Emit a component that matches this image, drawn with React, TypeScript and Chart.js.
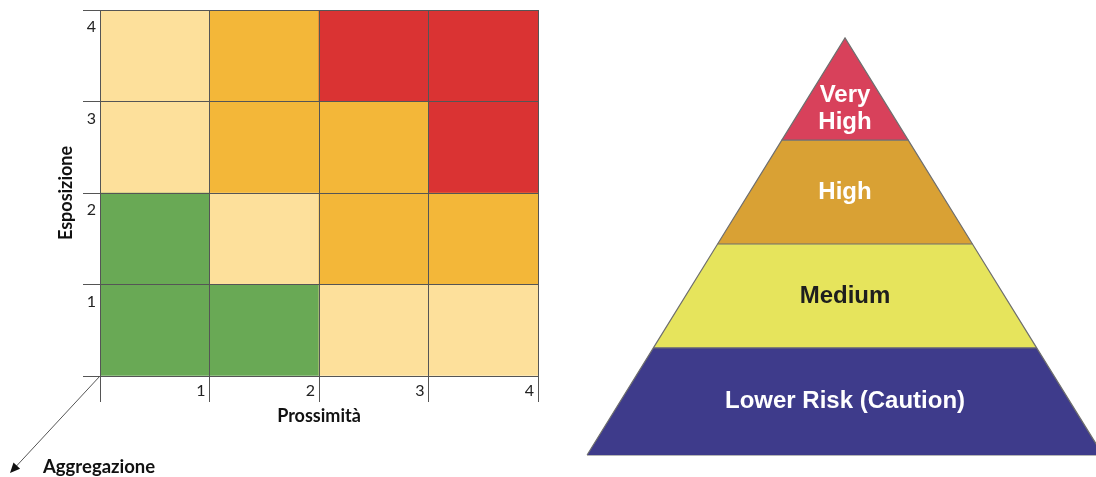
import React, { useEffect, useRef } from "react";
import { Chart, registerables } from "chart.js";

Chart.register(...registerables);

// ---------- Risk matrix (left) ----------
const prossimitaTicks = ["", "1", "2", "3", "4"];
const esposizioneTicks = ["", "1", "2", "3", "4"];
const cellCentres = [0.5, 1.5, 2.5, 3.5];
const cellHeight = [1, 1, 1, 1];
// risk level (1 = low … 4 = very high) for each Esposizione row, per Prossimità column
const riskRow1 = [1, 1, 2, 2];
const riskRow2 = [1, 2, 3, 3];
const riskRow3 = [2, 3, 3, 4];
const riskRow4 = [2, 3, 4, 4];
const riskRows = [riskRow1, riskRow2, riskRow3, riskRow4];
const riskColors = ["#69a955", "#fde09b", "#f3b739", "#da3333"];

// ---------- Pyramid (right) ----------
const pyramidLabels = ["Lower Risk (Caution)", "Medium", "High", "Very\nHigh"];
const pyramidBounds = [0, 25.7, 50.6, 75.5, 100];
const pyramidColors = ["#3e3b8b", "#e6e45c", "#d9a134", "#d8415b"];
const pyramidTextColors = ["#ffffff", "#1e1e1e", "#ffffff", "#ffffff"];

const GRID = "#555555";

const aggregazionePlugin = {
  id: "aggregazione",
  afterDraw(chart: any) {
    const { ctx, scales } = chart;
    const ox = scales.x.getPixelForValue(0);
    const oy = scales.y.getPixelForValue(0);
    const tx = ox - 90;
    const ty = oy + 97;
    ctx.save();
    ctx.strokeStyle = GRID;
    ctx.lineWidth = 1;
    ctx.beginPath();
    ctx.moveTo(ox, oy);
    ctx.lineTo(tx + 4, ty - 4.3);
    ctx.stroke();
    // arrow head
    const ang = Math.atan2(ty - oy, tx - ox);
    const len = 10;
    const half = 4.5;
    const bx = tx - len * Math.cos(ang);
    const by = ty - len * Math.sin(ang);
    ctx.fillStyle = "#111";
    ctx.beginPath();
    ctx.moveTo(tx, ty);
    ctx.lineTo(bx + half * Math.sin(ang), by - half * Math.cos(ang));
    ctx.lineTo(bx - half * Math.sin(ang), by + half * Math.cos(ang));
    ctx.closePath();
    ctx.fill();
    ctx.font = "bold 18.5px Lato";
    ctx.fillStyle = "#111";
    ctx.textAlign = "left";
    ctx.textBaseline = "middle";
    ctx.fillText("Aggregazione", ox - 57, oy + 91);
    ctx.restore();
  },
};

const pyramidLabelPlugin = {
  id: "pyramidLabels",
  afterDatasetsDraw(chart: any) {
    const { ctx, scales } = chart;
    const cx = scales.x.getPixelForValue(0);
    ctx.save();
    ctx.font = "bold 24px 'Liberation Sans'";
    ctx.textAlign = "center";
    ctx.textBaseline = "middle";
    pyramidLabels.forEach((label, i) => {
      const b = pyramidBounds[i];
      const t = pyramidBounds[i + 1];
      const lines = label.split("\n");
      const frac = lines.length > 1 ? 0.31 : 0.5;
      const cy = scales.y.getPixelForValue(b + (t - b) * frac);
      const lh = 27;
      ctx.fillStyle = pyramidTextColors[i];
      lines.forEach((ln, j) => {
        ctx.fillText(ln, cx, cy + (j - (lines.length - 1) / 2) * lh);
      });
    });
    ctx.restore();
  },
};

export default function App() {
  const leftRef = useRef<HTMLCanvasElement>(null);
  const rightRef = useRef<HTMLCanvasElement>(null);

  useEffect(() => {
    const tickFont = { family: "Lato", size: 16 };
    const titleFont = { family: "Lato", size: 18, weight: "bold" as const };

    const left = new Chart(leftRef.current!, {
      type: "bar",
      data: {
        datasets: riskRows.map((row, r) => ({
          label: "Esposizione " + esposizioneTicks[r + 1],
          data: cellCentres.map((c, i) => ({ x: c, y: cellHeight[i] })),
          backgroundColor: row.map((lvl) => riskColors[lvl - 1]),
          borderWidth: 0,
          barPercentage: 1,
          categoryPercentage: 1,
        })),
      },
      options: {
        responsive: false,
        animation: false,
        devicePixelRatio: 1,
        layout: { padding: { left: 0, top: 10, right: 22, bottom: 50 } },
        plugins: { legend: { display: false }, tooltip: { enabled: false } },
        scales: {
          x: {
            type: "linear",
            min: 0,
            max: 4,
            stacked: true,
            offset: false,
            grid: { color: GRID, tickLength: 26, offset: false, lineWidth: 1, z: 1 },
            border: { color: GRID, z: 1 },
            ticks: {
              stepSize: 1,
              autoSkip: false,
              maxRotation: 0,
              align: "end",
              labelOffset: -4,
              padding: -21,
              color: "#222",
              font: tickFont,
              z: 2,
              callback: (_v: any, i: number) => prossimitaTicks[i] ?? "",
            },
            title: { display: true, text: "Prossimità", color: "#111", font: titleFont, padding: 0 },
            afterFit: (s: any) => {
              s.height = 51;
            },
          },
          y: {
            type: "linear",
            min: 0,
            max: 4,
            stacked: true,
            grid: { color: GRID, tickLength: 17, lineWidth: 1, z: 1 },
            border: { color: GRID, z: 1 },
            ticks: {
              stepSize: 1,
              labelOffset: 17,
              padding: -13,
              color: "#222",
              font: tickFont,
              z: 2,
              callback: (_v: any, i: number) => esposizioneTicks[i] ?? "",
            },
            title: {
              display: true,
              text: "Esposizione",
              color: "#111",
              font: titleFont,
              padding: { top: 55, bottom: 0 },
            },
            afterFit: (s: any) => {
              s.width = 100;
            },
          },
        },
      } as any,
      plugins: [aggregazionePlugin],
    });

    const right = new Chart(rightRef.current!, {
      type: "line",
      data: {
        datasets: [
          ...pyramidLabels.map((label, i) => {
            const b = pyramidBounds[i];
            const t = pyramidBounds[i + 1];
            const wb = 1 - b / 100;
            const wt = 1 - t / 100;
            return {
              label: label.replace("\n", " "),
              data: [
                { x: -wb, y: b },
                { x: -wt, y: t },
                { x: wt, y: t },
                { x: wb, y: b },
              ],
              backgroundColor: pyramidColors[i],
              borderColor: "#6e6e6e",
              borderWidth: 1.2,
              pointRadius: 0,
              tension: 0,
              fill: { value: b },
              clip: false,
            };
          }),
          {
            label: "base",
            data: [
              { x: -1, y: 0 },
              { x: 1, y: 0 },
            ],
            borderColor: "#6e6e6e",
            borderWidth: 1.2,
            pointRadius: 0,
            fill: false,
            clip: false,
          },
        ],
      },
      options: {
        responsive: false,
        animation: false,
        devicePixelRatio: 1,
        layout: { padding: { left: 0, top: 38, right: 0, bottom: 22 } },
        plugins: { legend: { display: false }, tooltip: { enabled: false } },
        scales: {
          x: { type: "linear", min: -1.105, max: 0.973, display: false },
          y: { type: "linear", min: 0, max: 100, display: false },
        },
      } as any,
      plugins: [pyramidLabelPlugin],
    });

    return () => {
      left.destroy();
      right.destroy();
    };
  }, []);

  return (
    <div
      style={{
        position: "fixed",
        left: 0,
        top: 0,
        width: 1096,
        height: 477,
        background: "#ffffff",
        overflow: "hidden",
      }}
    >
      <div style={{ position: "absolute", left: 0, top: 0, width: 560, height: 477 }}>
        <canvas ref={leftRef} width={560} height={477} style={{ display: "block" }} />
      </div>
      <div style={{ position: "absolute", left: 560, top: 0, width: 536, height: 477 }}>
        <canvas ref={rightRef} width={536} height={477} style={{ display: "block" }} />
      </div>
    </div>
  );
}
